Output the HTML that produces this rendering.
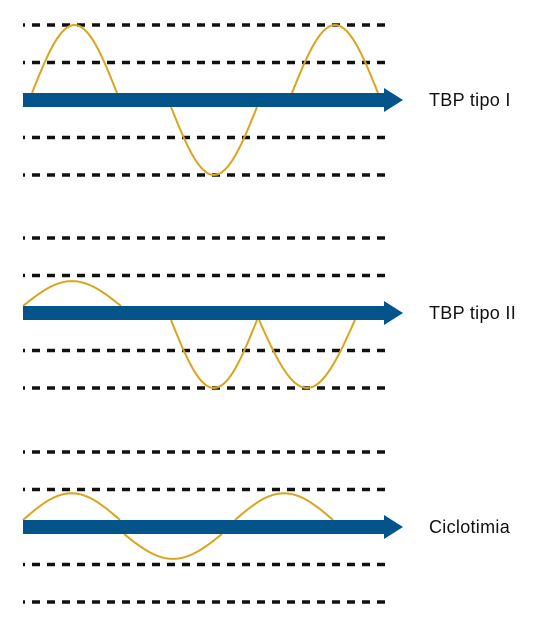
<!DOCTYPE html>
<html><head><meta charset="utf-8">
<style>
html,body{margin:0;padding:0;background:#fff;}
svg{display:block;}
text{font-family:"Liberation Sans",sans-serif;font-size:18px;fill:#111;letter-spacing:0.3px;}
</style></head>
<body>
<svg id="chart" width="558" height="617" viewBox="0 0 558 617" xmlns="http://www.w3.org/2000/svg"></svg>
<script>
// Panel data
const panelLabels = ["TBP tipo I", "TBP tipo II", "Ciclotimia"];
const panelCenters = [100, 313, 527];
// half-cycles: start x, end x, signed amplitude in level units (1 = first dashed line, 2 = second)
const waveStarts = [[32, 171, 292], [23, 171, 259], [23, 124, 235]];
const waveEnds = [[117, 257, 378], [121, 257, 355], [120, 222, 333]];
const waveAmps = [[2, -2, 2], [0.85, -2, -2], [0.9, -0.85, 0.9]];
const dashLevels = [2, 1, -1, -2];

const svg = document.getElementById('chart');
const NS = 'http://www.w3.org/2000/svg';
function yScale(center, lvl){ return center - lvl*37.5; }
const arrowHalf = 7;
let dash = '2 7';
for (let i=0;i<24;i++) dash += ' 8 7';
dash += ' 2 300';

panelLabels.forEach((lab, p) => {
  const c = panelCenters[p];
  const g = document.createElementNS(NS,'g');
  
  
  svg.appendChild(g);
  dashLevels.forEach(l => {
    const y = yScale(c, l);
    const dot = document.createElementNS(NS,'line');
    
    
    dot.setAttribute('x1', 23); dot.setAttribute('x2', 389);
    dot.setAttribute('y1', y); dot.setAttribute('y2', y);
    dot.setAttribute('stroke', '#111'); dot.setAttribute('stroke-width', 3.5);
    dot.setAttribute('stroke-dasharray', dash);
    g.appendChild(dot);
  });
  waveStarts[p].forEach((x0, i) => {
    const x1 = waveEnds[p][i], a = waveAmps[p][i];
    const off = a > 0 ? -arrowHalf : arrowHalf;
    const y0 = c + off;
    const peak = yScale(c, a);
    let d = '';
    for (let k=0;k<=40;k++){
      const t=k/40, x=x0+(x1-x0)*t;
      const y = y0 + (peak - y0)*Math.sin(Math.PI*t);
      d += (k?'L':'M') + x.toFixed(2) + ' ' + y.toFixed(2);
    }
    const path = document.createElementNS(NS,'path');
    
    
    path.setAttribute('d', d);
    path.setAttribute('fill','none'); path.setAttribute('stroke','#d9a51e'); path.setAttribute('stroke-width', 2);
    g.appendChild(path);
  });
  const arrow = document.createElementNS(NS,'polygon');
  
  
  arrow.setAttribute('points', `23,${c-arrowHalf} 384,${c-arrowHalf} 384,${c-12} 403,${c} 384,${c+12} 384,${c+arrowHalf} 23,${c+arrowHalf}`);
  arrow.setAttribute('fill', '#03548a');
  g.appendChild(arrow);
  const t = document.createElementNS(NS,'text');
  
  
  t.setAttribute('x', 429); t.setAttribute('y', c + 6);
  t.textContent = lab;
  g.appendChild(t);
});
</script>
</body></html>
